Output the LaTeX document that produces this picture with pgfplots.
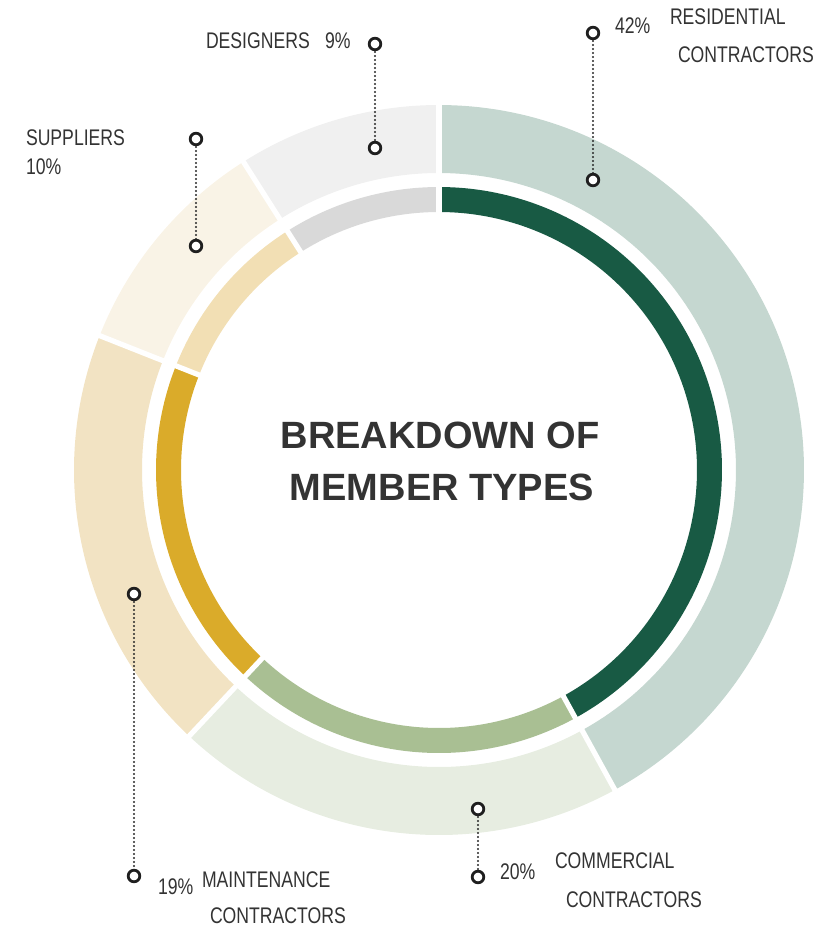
\documentclass[border=0pt]{standalone}
\usepackage{pgfplots}
\pgfplotsset{compat=1.18}
\usepackage{fontspec}
\setmainfont{Liberation Sans}
\newfontfamily\cond{Liberation Sans}[FakeStretch=0.78]
\definecolor{resO}{HTML}{C5D7D0}
\definecolor{resI}{HTML}{185A44}
\definecolor{comO}{HTML}{E7EDE1}
\definecolor{comI}{HTML}{A9BF93}
\definecolor{maiO}{HTML}{F2E3C3}
\definecolor{maiI}{HTML}{DAAB2A}
\definecolor{supO}{HTML}{F9F3E6}
\definecolor{supI}{HTML}{F2DFB4}
\definecolor{desO}{HTML}{F0F0F0}
\definecolor{desI}{HTML}{D9D9D9}
\definecolor{txt}{HTML}{333333}
% data (percent)
\def\pRes{42}
\def\pCom{20}
\def\pMai{19}
\def\pSup{10}
\def\pDes{9}
\def\cx{439}
\def\cy{470}
\pgfmathsetmacro\aA{90}
\pgfmathsetmacro\aB{\aA-3.6*\pRes}
\pgfmathsetmacro\aC{\aB-3.6*\pCom}
\pgfmathsetmacro\aD{\aC-3.6*\pMai}
\pgfmathsetmacro\aE{\aD-3.6*\pSup}
\pgfmathsetmacro\aF{\aE-3.6*\pDes}
\newcommand\ring[5]{\addplot[draw=#5,line width=#4,line cap=butt,line join=round,domain=#2:#1,samples=120] ({\cx+#3*cos(x)},{\cy-#3*sin(x)});}
\newcommand\gap[1]{\addplot[draw=white,line width=2.6pt,domain=245:378,samples=2] ({\cx+x*cos(#1)},{\cy-x*sin(#1)});}
\newcommand\lbl{\cond\fontsize{11.3}{13}\selectfont}
\tikzset{lab/.style={anchor=base west, inner sep=0pt, outer sep=0pt, text=txt, font=\lbl},
  ttl/.style={anchor=base, inner sep=0pt, outer sep=0pt, text=txt, font=\fontsize{19}{24}\selectfont\bfseries}}
\begin{document}
\begin{tikzpicture}
\begin{axis}[scale only axis, width=418pt, height=463pt,
  xmin=0, xmax=836, ymin=0, ymax=926, y dir=reverse,
  hide axis, clip=false]
\addplot[draw=none] coordinates {(0,0) (836,926)};
% outer ring (r 297..365)
\ring{\aA}{\aB}{331}{34pt}{resO}
\ring{\aB}{\aC}{331}{34pt}{comO}
\ring{\aC}{\aD}{331}{34pt}{maiO}
\ring{\aD}{\aE}{331}{34pt}{supO}
\ring{\aE}{\aF}{331}{34pt}{desO}
% inner ring (r 258..283)
\ring{\aA}{\aB}{270.5}{12.5pt}{resI}
\ring{\aB}{\aC}{270.5}{12.5pt}{comI}
\ring{\aC}{\aD}{270.5}{12.5pt}{maiI}
\ring{\aD}{\aE}{270.5}{12.5pt}{supI}
\ring{\aE}{\aF}{270.5}{12.5pt}{desI}
\gap{\aA}\gap{\aB}\gap{\aC}\gap{\aD}\gap{\aE}
% leader lines
\pgfplotsset{leader/.style={draw=black!85,line width=1.1pt,line cap=round,dash pattern=on 0pt off 2pt}}
\addplot[leader] coordinates {(375,44) (375,148)};
\addplot[leader] coordinates {(593,33) (593,180)};
\addplot[leader] coordinates {(196,139) (196,246)};
\addplot[leader] coordinates {(134,594) (134,876)};
\addplot[leader] coordinates {(478,809) (478,877)};
\addplot[only marks, mark=*, mark size=2.9pt, mark options={draw=black!88, fill=white, line width=1.4pt}]
 coordinates {(375,44) (375,148) (593,33) (593,180) (196,139) (196,246) (134,594) (134,876) (478,809) (478,877)};
% labels
\node[lab] at (axis cs:206,48) {DESIGNERS};
\node[lab] at (axis cs:325,48) {9\%};
\node[lab] at (axis cs:615,33) {42\%};
\node[lab] at (axis cs:670,25) {RESIDENTIAL};
\node[lab] at (axis cs:678,62) {CONTRACTORS};
\node[lab] at (axis cs:26,145) {SUPPLIERS};
\node[lab] at (axis cs:26,174) {10\%};
\node[lab] at (axis cs:158,894) {19\%};
\node[lab] at (axis cs:202,887) {MAINTENANCE};
\node[lab] at (axis cs:210,923) {CONTRACTORS};
\node[lab] at (axis cs:500,879) {20\%};
\node[lab] at (axis cs:555,868) {COMMERCIAL};
\node[lab] at (axis cs:566,907) {CONTRACTORS};
% title
\node[ttl] at (axis cs:440,448) {BREAKDOWN OF};
\node[ttl] at (axis cs:442,500) {MEMBER TYPES};
\end{axis}
\end{tikzpicture}
\end{document}
